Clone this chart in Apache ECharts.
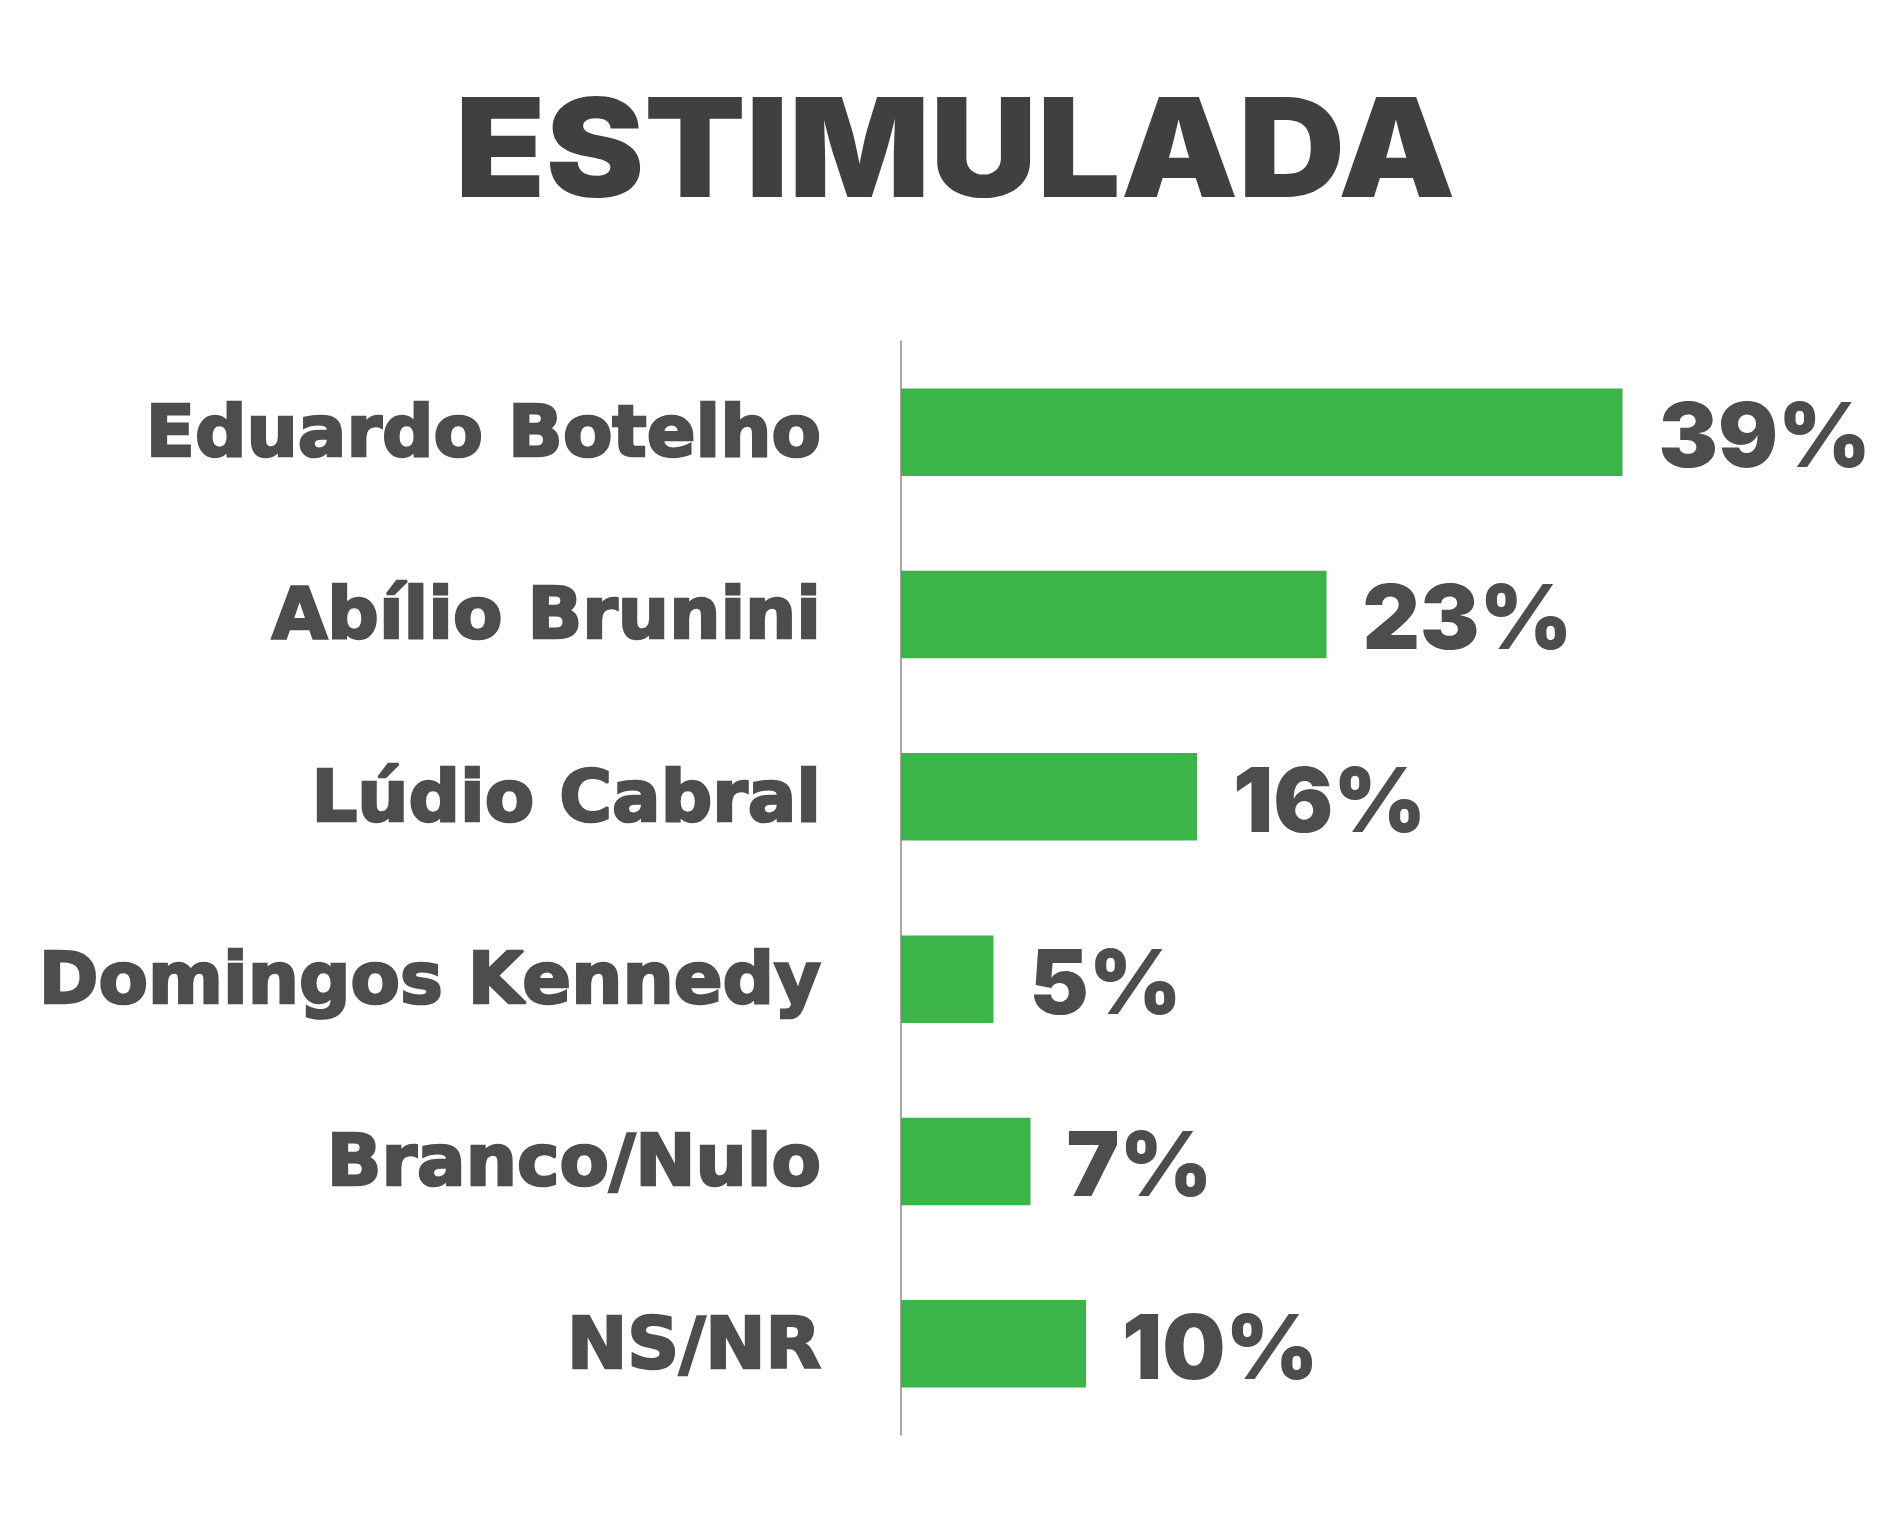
<!DOCTYPE html>
<html>
<head>
<meta charset="utf-8">
<script src="https://cdn.jsdelivr.net/npm/echarts@6/dist/echarts.min.js"></script>
<style>
html,body{margin:0;padding:0;background:#fff;}
#chart{width:1884px;height:1519px;}
</style>
</head>
<body>
<div id="chart"></div>
<script>
const titleText = 'ESTIMULADA';
const categories = ['Eduardo Botelho', 'Abílio Brunini', 'Lúdio Cabral', 'Domingos Kennedy', 'Branco/Nulo', 'NS/NR'];
const values = [39, 23, 16, 5, 7, 10];

const chart = echarts.init(document.getElementById('chart'));
chart.setOption({
  backgroundColor: '#ffffff',
  animation: false,
  graphic: [{
    type: 'text',
    left: 455,
    top: 87,
    scaleX: 1.08,
    style: {
      text: titleText,
      font: '900 137px Inter',
      fill: '#404040'
    }
  }],
  grid: { left: 901, top: 341, height: 1094, right: 58, containLabel: false },
  xAxis: {
    type: 'value', min: 0, max: 50,
    show: false
  },
  yAxis: {
    type: 'category',
    inverse: true,
    data: categories,
    axisLine: { show: true, lineStyle: { color: '#8a8a8a', width: 1.5 } },
    axisTick: { show: false },
    axisLabel: {
      margin: 80,
      verticalAlign: 'top',
      lineHeight: 10,
      fontFamily: 'DejaVu Sans',
      fontWeight: 'bold',
      fontSize: 72,
      color: '#4d4d4d',
      textBorderColor: '#4d4d4d',
      textBorderWidth: 2.5
    }
  },
  series: [{
    type: 'bar',
    data: values,
    barCategoryGap: '52%',
    itemStyle: { color: '#3bb54a' },
    label: {
      show: true,
      position: 'right',
      distance: 36,
      offset: [0, 8],
      formatter: '{c}%',
      fontFamily: 'Inter',
      fontWeight: 900,
      fontSize: 89,
      color: '#4d4d4d'
    }
  }]
});
</script>
</body>
</html>
